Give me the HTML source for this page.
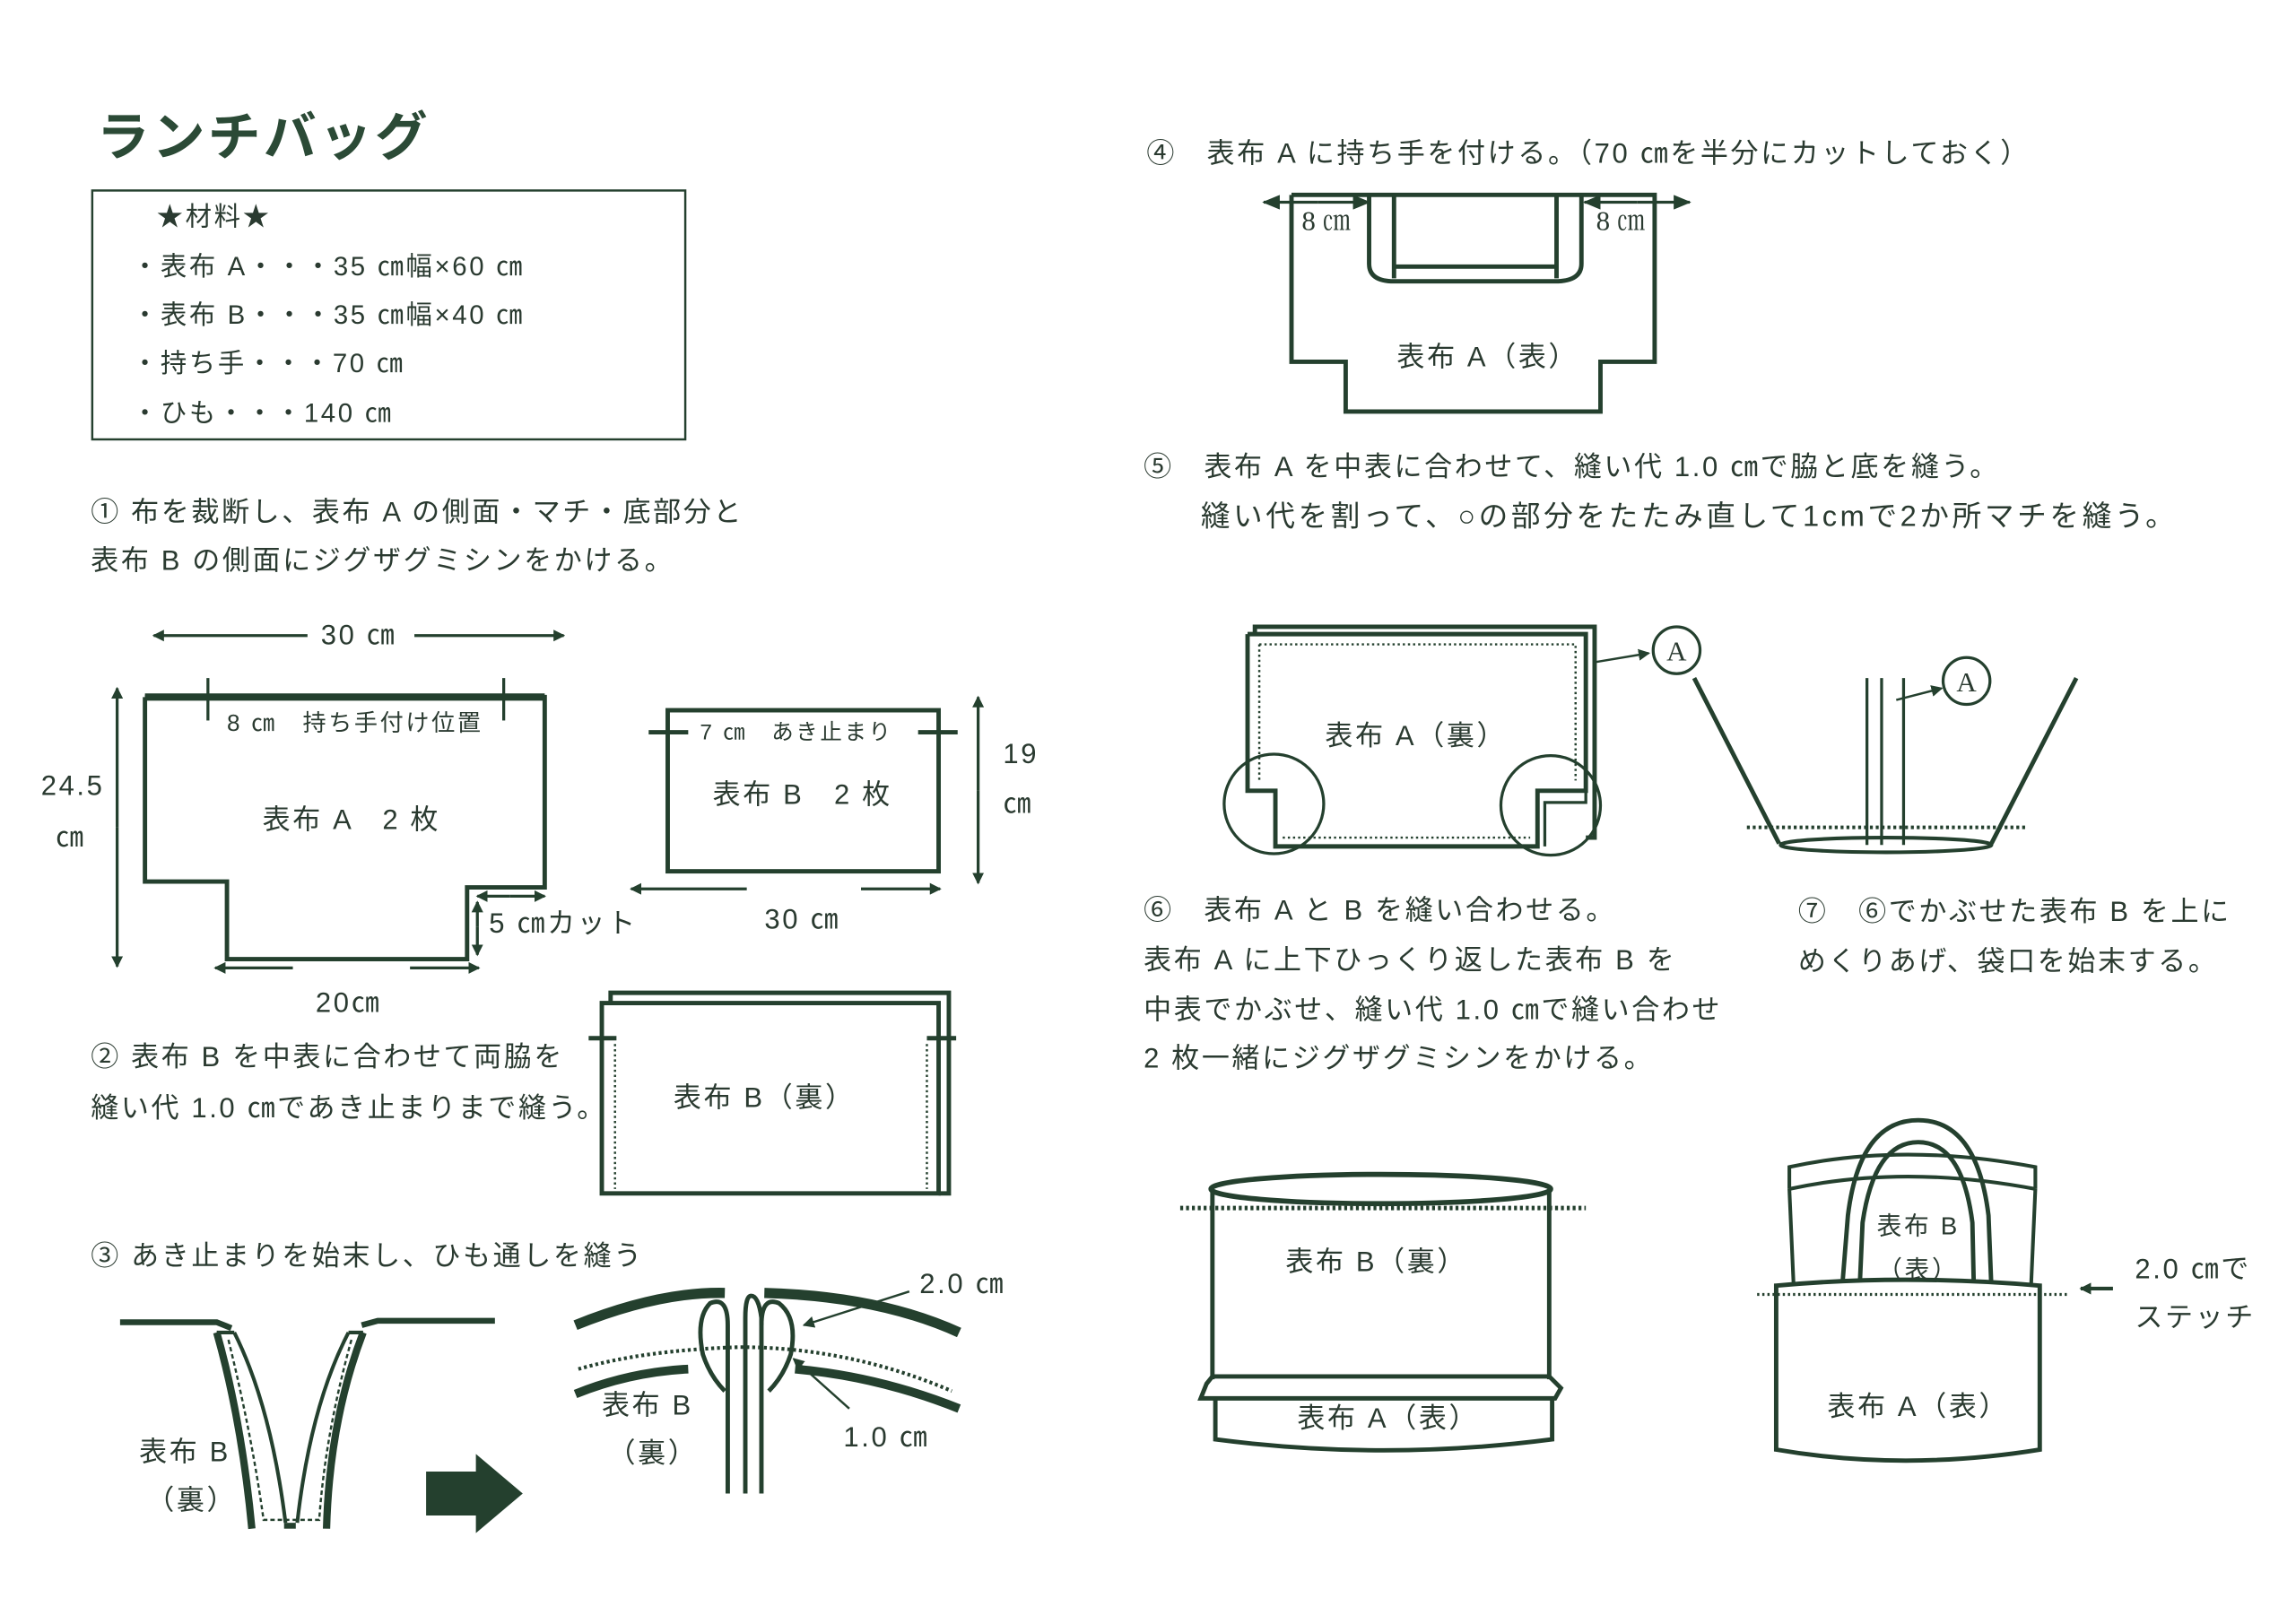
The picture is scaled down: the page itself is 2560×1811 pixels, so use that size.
<!DOCTYPE html>
<html><head><meta charset="utf-8"><style>
html,body{margin:0;padding:0;background:#fff;}
svg{display:block}
text{font-family:"Liberation Sans","Noto Sans CJK JP",sans-serif;fill:#2a3a30;}
.s{font-family:"Liberation Serif","Noto Serif CJK SC",serif;}
.b text{letter-spacing:1.6px}
</style></head><body>
<svg width="2560" height="1811" viewBox="0 0 1568 1109" xmlns="http://www.w3.org/2000/svg">
<defs>
<marker id="ah" markerWidth="8" markerHeight="8" refX="7" refY="4" orient="auto" markerUnits="userSpaceOnUse"><path d="M0,0 L8,4 L0,8 z" fill="#24402e"/></marker>
<marker id="as" markerWidth="12" markerHeight="10" refX="11" refY="5" orient="auto-start-reverse" markerUnits="userSpaceOnUse"><path d="M0,0 L12,5 L0,10 z" fill="#24402e"/></marker>
</defs>
<text x="66" y="106" font-size="36" font-weight="bold" style="fill:#2b4a36;letter-spacing:2px">ランチバッグ</text>
<rect x="63" y="130" width="405" height="170" fill="none" stroke="#24402e" stroke-width="1.5"/>
<g font-size="18" class="b">
<text x="107" y="154">★材料★</text>
<text x="90" y="188">・表布 A・・・35 ㎝幅×60 ㎝</text>
<text x="90" y="221">・表布 B・・・35 ㎝幅×40 ㎝</text>
<text x="90" y="254">・持ち手・・・70 ㎝</text>
<text x="90" y="288">・ひも・・・140 ㎝</text>
</g>
<g font-size="19" class="b">
<text x="62" y="356">①  布を裁断し、表布 A の側面・マチ・底部分と</text>
<text x="62" y="389">表布 B の側面にジグザグミシンをかける。</text>
</g>
<g stroke="#24402e" fill="none" stroke-width="2">
<line x1="210" y1="434" x2="105" y2="434" marker-end="url(#ah)"/>
<line x1="283" y1="434" x2="385" y2="434" marker-end="url(#ah)"/>
<polyline points="99,476 372,476 372,606 319,606 319,655 155,655 155,602 99,602 99,476" stroke-width="3"/>
<line x1="99" y1="476" x2="372" y2="476" stroke-width="5"/>
<line x1="142" y1="463" x2="142" y2="492"/><line x1="344" y1="463" x2="344" y2="492"/>
<line x1="80" y1="565" x2="80" y2="470" marker-end="url(#ah)"/>
<line x1="80" y1="565" x2="80" y2="660" marker-end="url(#ah)"/>
<line x1="348" y1="612" x2="326" y2="612" marker-end="url(#ah)"/>
<line x1="348" y1="612" x2="372" y2="612" marker-end="url(#ah)"/>
<line x1="326" y1="633" x2="326" y2="616" marker-end="url(#ah)"/>
<line x1="326" y1="633" x2="326" y2="652" marker-end="url(#ah)"/>
<line x1="200" y1="661" x2="147" y2="661" marker-end="url(#ah)"/>
<line x1="280" y1="661" x2="327" y2="661" marker-end="url(#ah)"/>
<rect x="456" y="485" width="185" height="110" stroke-width="3"/>
<line x1="443" y1="500" x2="470" y2="500" stroke-width="3"/><line x1="627" y1="500" x2="654" y2="500" stroke-width="3"/>
<line x1="668" y1="540" x2="668" y2="476" marker-end="url(#ah)"/>
<line x1="668" y1="540" x2="668" y2="603" marker-end="url(#ah)"/>
<line x1="510" y1="607" x2="431" y2="607" marker-end="url(#ah)"/>
<line x1="588" y1="607" x2="642" y2="607" marker-end="url(#ah)"/>
<polyline points="417,685 417,678 648,678 648,815 641,815" stroke-width="3"/>
<rect x="411" y="685" width="230" height="130" stroke-width="3"/>
<line x1="402" y1="709" x2="421" y2="709" stroke-width="3"/><line x1="633" y1="709" x2="653" y2="709" stroke-width="3"/>
<line x1="420" y1="713" x2="420" y2="812" stroke-dasharray="1.5,2" stroke-width="1.5"/>
<line x1="633" y1="713" x2="633" y2="812" stroke-dasharray="1.5,2" stroke-width="1.5"/>
</g>
<g font-size="16" class="b"><text x="155" y="499">8 ㎝　持ち手付け位置</text><text x="478" y="505" font-size="15">7 ㎝　あき止まり</text></g>
<g font-size="19" class="b">
<text x="245" y="440" text-anchor="middle">30 ㎝</text>
<text x="240" y="566" text-anchor="middle">表布 A　2 枚</text>
<text x="28" y="543">24.5</text><text x="38" y="578">㎝</text>
<text x="334" y="637">5 ㎝カット</text>
<text x="238" y="691" text-anchor="middle">20㎝</text>
<text x="548" y="549" text-anchor="middle">表布 B　2 枚</text>
<text x="685" y="521">19</text><text x="685" y="555">㎝</text>
<text x="548" y="634" text-anchor="middle">30 ㎝</text>
<text x="62" y="728">②  表布 B を中表に合わせて両脇を</text>
<text x="62" y="763">縫い代 1.0 ㎝であき止まりまで縫う。</text>
<text x="522" y="756" text-anchor="middle">表布 B（裏）</text>
<text x="62" y="864">③  あき止まりを始末し、ひも通しを縫う</text>
<text x="95" y="998">表布 B</text><text x="100" y="1031">（裏）</text>
<text x="411" y="966">表布 B</text><text x="415" y="999">（裏）</text>
<text x="628" y="883">2.0 ㎝</text>
<text x="576" y="988">1.0 ㎝</text>
</g>
<g stroke="#24402e" fill="none">
<polyline points="82,903 148,903 158,907" stroke-width="4"/>
<polyline points="247,905 258,902 338,902" stroke-width="4"/>
<path d="M148,910 Q165,970 172,1044" stroke-width="5"/>
<path d="M160,910 Q185,960 195,1040" stroke-width="2.5"/>
<path d="M248,910 Q225,970 223,1044" stroke-width="5"/>
<path d="M238,910 Q212,960 203,1040" stroke-width="2.5"/>
<line x1="148" y1="910" x2="160" y2="910" stroke-width="2.5"/><line x1="238" y1="910" x2="248" y2="910" stroke-width="2.5"/>
<path d="M156,915 Q172,980 180,1038 L200,1038 M240,915 Q222,980 218,1038 L200,1038" stroke-width="1.5" stroke-dasharray="3,2"/>
<path d="M198,1040 L198,1044" stroke-width="8"/>
</g>
<path d="M291,1005 L325,1005 L325,993 L357,1020 L325,1047 L325,1035 L291,1035 z" fill="#24402e"/>
<g stroke="#24402e" fill="none">
<path d="M393,905 Q450,882 495,883" stroke-width="7"/>
<path d="M522,883 Q600,885 655,910" stroke-width="7"/>
<path d="M393,952 Q430,937 470,935" stroke-width="6"/>
<path d="M543,935 Q600,940 655,962" stroke-width="6"/>
<path d="M395,935 Q440,922 505,920 Q580,920 650,950" stroke-width="2.5" stroke-dasharray="2,2"/>
<path d="M497,1020 L497,905 Q497,885 485,890 Q475,900 480,925 Q485,940 495,950" stroke-width="3"/>
<path d="M509,1020 L509,900 Q509,885 513,885 Q518,885 520,900 L520,1020" stroke-width="3"/>
<path d="M520,905 Q520,885 532,890 Q545,900 540,925 Q535,940 525,950" stroke-width="3"/>
<line x1="621" y1="882" x2="549" y2="905" marker-end="url(#ah)" stroke-width="1.5"/>
<line x1="580" y1="962" x2="542" y2="928" marker-end="url(#ah)" stroke-width="1.5"/>
</g>
<g font-size="19" class="b">
<text x="783" y="111">④　表布 A に持ち手を付ける。（70 ㎝を半分にカットしておく）</text>
<text x="1016" y="250" text-anchor="middle">表布 A（表）</text>
<text x="781" y="325">⑤　表布 A を中表に合わせて、縫い代 1.0 ㎝で脇と底を縫う。</text>
<text x="967" y="509" text-anchor="middle">表布 A（裏）</text>
<text x="781" y="628">⑥　表布 A と B を縫い合わせる。</text>
<text x="781" y="662">表布 A に上下ひっくり返した表布 B を</text>
<text x="781" y="696">中表でかぶせ、縫い代 1.0 ㎝で縫い合わせ</text>
<text x="781" y="729">2 枚一緒にジグザグミシンをかける。</text>
<text x="1228" y="629">⑦　⑥でかぶせた表布 B を上に</text>
<text x="1228" y="663">めくりあげ、袋口を始末する。</text>
<text x="940" y="868" text-anchor="middle">表布 B（裏）</text>
<text x="948" y="975" text-anchor="middle">表布 A（表）</text>
<text x="1458" y="873">2.0 ㎝で</text>
<text x="1458" y="906">ステッチ</text>
</g>
<text x="820" y="359" font-size="20" style="letter-spacing:2.2px">縫い代を割って、○の部分をたたみ直して1cmで2か所マチを縫う。</text>
<g font-size="19"><text class="s" x="889" y="157">8 ㎝</text><text class="s" x="1090" y="157">8 ㎝</text>
<text class="s" x="1145" y="451" text-anchor="middle">A</text><text class="s" x="1343" y="472" text-anchor="middle">A</text></g>
<g stroke="#24402e" fill="none">
<polyline points="882,133 1130,133 1130,247 1093,247 1093,281 919,281 919,247 882,247 882,133" stroke-width="3"/>
<path d="M935,133 L935,180 Q935,192 952,192 L1062,192 Q1080,192 1080,180 L1080,133" stroke-width="3"/>
<path d="M952,133 L952,190 M1063,133 L1063,190 M952,182 L1063,182" stroke-width="3"/>
<line x1="900" y1="138" x2="863" y2="138" marker-end="url(#as)" stroke-width="2"/>
<line x1="900" y1="138" x2="935" y2="138" marker-end="url(#as)" stroke-width="2"/>
<line x1="1118" y1="138" x2="1082" y2="138" marker-end="url(#as)" stroke-width="2"/>
<line x1="1118" y1="138" x2="1154" y2="138" marker-end="url(#as)" stroke-width="2"/>
<polyline points="857,433 857,428 1089,428 1089,572 1083,572" stroke-width="3"/>
<polyline points="852,433 1083,433 1083,540 1050,540 1050,578 871,578 871,540 852,540 852,433" stroke-width="3"/>
<polyline points="1083,540 1083,548 1055,548 1055,578" stroke-width="2"/>
<path d="M860,440 L1076,440 L1076,533 M860,440 L860,533 M876,572 L1045,572" stroke-width="1.5" stroke-dasharray="1.5,2"/>
<circle cx="870" cy="549" r="34" stroke-width="2"/>
<circle cx="1059" cy="550" r="34" stroke-width="2"/>
<circle cx="1145" cy="444" r="16" stroke-width="2"/>
<line x1="1090" y1="452" x2="1126" y2="446" marker-end="url(#ah)" stroke-width="1.5"/>
<line x1="1157" y1="463" x2="1215" y2="576" stroke-width="3"/>
<line x1="1418" y1="463" x2="1360" y2="576" stroke-width="3"/>
<ellipse cx="1288" cy="577" rx="72" ry="5" stroke-width="2.5"/>
<line x1="1193" y1="565" x2="1385" y2="565" stroke-width="2.5" stroke-dasharray="2,2"/>
<line x1="1275" y1="463" x2="1275" y2="577" stroke-width="2"/>
<line x1="1285" y1="463" x2="1285" y2="577" stroke-width="2"/>
<line x1="1300" y1="463" x2="1300" y2="577" stroke-width="2"/>
<circle cx="1343" cy="465" r="16" stroke-width="2"/>
<line x1="1295" y1="478" x2="1326" y2="470" marker-end="url(#ah)" stroke-width="1.5"/>
<ellipse cx="943" cy="812" rx="116" ry="10" stroke-width="3.5"/>
<line x1="828" y1="814" x2="828" y2="942" stroke-width="3"/>
<line x1="1058" y1="814" x2="1058" y2="942" stroke-width="3"/>
<line x1="806" y1="825" x2="1083" y2="825" stroke-width="3" stroke-dasharray="2,2"/>
<path d="M828,940 L1058,940 L1066,948 L1062,955 L820,955 L824,945 z" stroke-width="3"/>
<path d="M830,955 L830,983 Q945,998 1060,983 L1060,955" stroke-width="3"/>
<path d="M1222,812 L1222,797 Q1300,780 1390,797 L1390,812" stroke-width="2.5"/>
<path d="M1222,812 Q1300,795 1390,812" stroke-width="2.5"/>
<line x1="1222" y1="812" x2="1225" y2="880" stroke-width="2.5"/>
<line x1="1390" y1="812" x2="1387" y2="880" stroke-width="2.5"/>
<path d="M1258,880 L1262,830 Q1270,765 1310,765 Q1350,765 1358,830 L1360,880" stroke-width="3"/>
<path d="M1270,880 L1272,835 Q1280,780 1310,780 Q1340,780 1347,835 L1348,880" stroke-width="3"/>
<path d="M1213,878 L1213,990 Q1300,1005 1393,990 L1393,878 Q1300,870 1213,878 z" stroke-width="3" fill="#fff"/>
<line x1="1200" y1="884" x2="1413" y2="884" stroke-width="2" stroke-dasharray="1.5,2"/>
<line x1="1443" y1="880" x2="1421" y2="880" marker-end="url(#ah)" stroke-width="2.5"/>
</g>
<g font-size="17" class="b"><text x="1310" y="843" text-anchor="middle">表布 B</text><text x="1310" y="873" text-anchor="middle">（表）</text></g>
<text x="1310" y="967" font-size="19" text-anchor="middle" style="letter-spacing:1.6px">表布 A（表）</text>
</svg>
</body></html>
